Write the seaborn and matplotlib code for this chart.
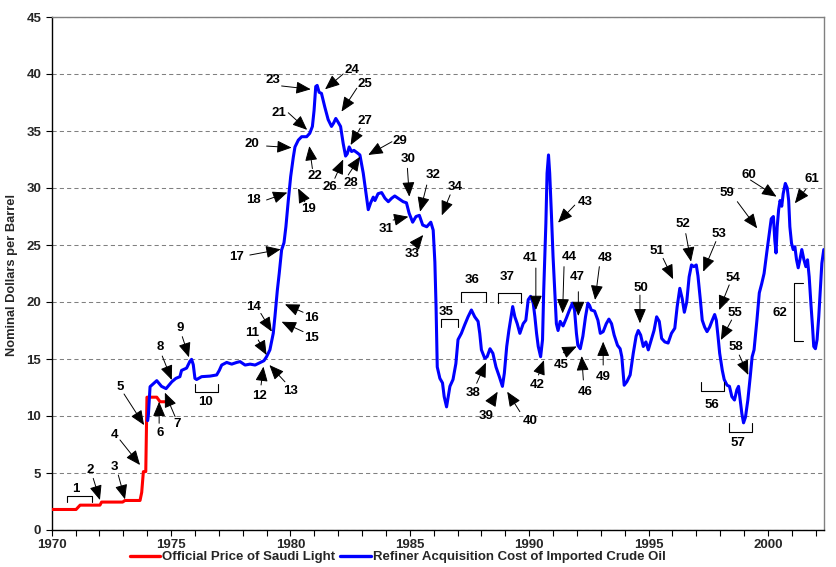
import matplotlib
matplotlib.use("Agg")
import matplotlib.pyplot as plt
from matplotlib.lines import Line2D
import numpy as np
import pandas as pd
import seaborn as sns

# ---------------- data ----------------
red_year = [1970.0, 1971.02, 1971.19, 1972.02, 1972.09, 1972.97, 1973.07, 1973.70,
            1973.77, 1973.84, 1973.94, 1973.99, 1974.40, 1974.54, 1974.95]
red_price = [1.80, 1.80, 2.18, 2.18, 2.45, 2.45, 2.59, 2.59,
             3.30, 5.12, 5.12, 11.65, 11.65, 11.25, 11.25]

blue_year = [
    1974.02, 1974.05, 1974.12, 1974.40, 1974.60, 1974.79, 1975.03, 1975.20, 1975.37, 1975.44,
    1975.65, 1975.79, 1975.86, 1975.93, 1976.00, 1976.07, 1976.28, 1976.63, 1976.91, 1977.02,
    1977.12, 1977.33, 1977.54, 1977.75, 1977.89, 1978.10, 1978.31, 1978.52, 1978.72, 1978.89,
    1979.00, 1979.14, 1979.28, 1979.35, 1979.45, 1979.53, 1979.63, 1979.73, 1979.81, 1979.91,
    1980.01, 1980.12, 1980.19, 1980.33, 1980.47, 1980.68, 1980.81, 1980.92, 1980.99, 1981.06,
    1981.12, 1981.20, 1981.30, 1981.44, 1981.58, 1981.72, 1981.81, 1981.90, 1981.99, 1982.10,
    1982.21, 1982.31, 1982.38, 1982.46, 1982.56, 1982.66, 1982.79, 1982.91, 1983.05, 1983.17,
    1983.26, 1983.36, 1983.47, 1983.54, 1983.67, 1983.82, 1983.96, 1984.10, 1984.24, 1984.37,
    1984.51, 1984.72, 1984.86, 1984.97, 1985.12, 1985.26, 1985.40, 1985.54, 1985.71, 1985.88,
    1985.98, 1986.05, 1986.10, 1986.15, 1986.26, 1986.37, 1986.44, 1986.54, 1986.68, 1986.81,
    1986.93, 1987.02, 1987.16, 1987.30, 1987.44, 1987.58, 1987.72, 1987.86, 1987.93, 1988.00,
    1988.14, 1988.24, 1988.36, 1988.48, 1988.61, 1988.75, 1988.88, 1988.96, 1989.06, 1989.15,
    1989.24, 1989.31, 1989.40, 1989.50, 1989.61, 1989.75, 1989.86, 1989.96, 1990.06, 1990.17,
    1990.24, 1990.31, 1990.38, 1990.48, 1990.56, 1990.61, 1990.70, 1990.75, 1990.81, 1990.86,
    1990.93, 1991.00, 1991.07, 1991.14, 1991.21, 1991.30, 1991.42, 1991.56, 1991.67, 1991.81,
    1991.90, 1991.98, 1992.04, 1992.14, 1992.25, 1992.36, 1992.46, 1992.53, 1992.60, 1992.74,
    1992.88, 1992.98, 1993.10, 1993.23, 1993.34, 1993.45, 1993.56, 1993.70, 1993.81, 1993.88,
    1993.98, 1994.09, 1994.23, 1994.36, 1994.48, 1994.57, 1994.67, 1994.78, 1994.89, 1994.99,
    1995.13, 1995.23, 1995.34, 1995.45, 1995.55, 1995.68, 1995.82, 1995.96, 1996.10, 1996.20,
    1996.31, 1996.41, 1996.50, 1996.60, 1996.70, 1996.80, 1996.90, 1997.00, 1997.07, 1997.17,
    1997.25, 1997.35, 1997.45, 1997.56, 1997.67, 1997.77, 1997.84, 1997.91, 1997.98, 1998.09,
    1998.17, 1998.29, 1998.39, 1998.49, 1998.60, 1998.70, 1998.77, 1998.84, 1998.91, 1998.98,
    1999.06, 1999.16, 1999.26, 1999.34, 1999.42, 1999.54, 1999.64, 1999.74, 1999.84, 1999.95,
    2000.06, 2000.14, 2000.23, 2000.29, 2000.34, 2000.39, 2000.45, 2000.51, 2000.58, 2000.64,
    2000.73, 2000.81, 2000.87, 2000.92, 2000.99, 2001.06, 2001.13, 2001.20, 2001.27, 2001.34,
    2001.42, 2001.51, 2001.59, 2001.66, 2001.73, 2001.80, 2001.87, 2001.92, 2001.99, 2002.06,
    2002.13, 2002.20, 2002.26, 2002.34]
blue_price = [
    9.6, 10.1, 12.57, 13.1, 12.6, 12.4, 13.0, 13.3, 13.45, 14.0,
    14.2, 14.8, 14.97, 14.5, 13.3, 13.2, 13.45, 13.5, 13.6, 14.0,
    14.47, 14.7, 14.55, 14.7, 14.77, 14.47, 14.55, 14.47, 14.68, 14.85,
    15.2, 15.8, 17.25, 18.7, 21.0, 22.5, 24.56, 25.2, 26.6, 28.9,
    31.0, 32.7, 33.6, 34.2, 34.5, 34.5, 34.8, 35.4, 36.8, 38.9,
    39.0, 38.4, 38.3, 37.1, 36.0, 35.4, 35.7, 36.1, 35.8, 35.4,
    33.9, 32.8, 33.0, 33.6, 33.2, 33.3, 33.1, 32.9, 31.3, 29.5,
    28.1, 28.7, 29.2, 28.9, 29.5, 29.6, 29.1, 28.8, 29.1, 29.3,
    29.1, 28.8, 28.7, 27.8, 27.0, 27.5, 27.6, 26.75, 26.6, 27.0,
    26.3, 23.5, 19.6, 14.3, 13.3, 12.9, 11.7, 10.8, 12.6, 13.2,
    14.6, 16.7, 17.25, 18.0, 18.7, 19.3, 18.7, 18.3, 17.25, 15.8,
    15.06, 15.2, 15.9, 15.5, 14.3, 13.45, 12.6, 13.75, 16.1, 17.5,
    18.7, 19.6, 18.7, 18.1, 17.25, 18.1, 18.4, 20.2, 20.5, 19.9,
    18.7, 17.25, 16.1, 15.2, 16.7, 21.05, 26.9, 31.3, 32.9, 31.3,
    27.8, 24.0, 21.05, 18.1, 17.5, 18.3, 17.9, 18.6, 19.2, 19.9,
    19.3, 17.25, 16.2, 15.9, 17.0, 18.7, 19.9, 19.7, 19.3, 19.2,
    18.4, 17.25, 17.4, 18.1, 18.5, 18.1, 17.1, 16.2, 15.9, 15.2,
    12.7, 13.0, 13.6, 15.5, 17.0, 17.5, 17.1, 16.1, 16.5, 15.8,
    16.8, 17.5, 18.7, 18.3, 16.8, 16.5, 16.4, 17.25, 17.7, 19.6,
    21.2, 20.3, 19.1, 20.0, 22.2, 23.25, 23.1, 23.25, 22.3, 20.2,
    18.4, 17.8, 17.4, 17.8, 18.4, 18.9, 18.4, 17.0, 15.5, 14.0,
    13.2, 12.7, 12.6, 11.7, 11.4, 12.3, 12.6, 11.4, 10.2, 9.4,
    9.9, 11.4, 13.45, 15.2, 15.8, 18.4, 20.8, 21.6, 22.5, 24.3,
    26.0, 27.3, 27.5, 25.4, 24.3, 26.6, 28.1, 28.9, 28.4, 29.5,
    30.4, 30.0, 28.9, 26.6, 25.15, 24.6, 24.85, 23.7, 23.0, 23.7,
    24.6, 23.7, 23.1, 23.7, 22.2, 19.9, 17.8, 16.1, 15.9, 16.7,
    18.7, 21.3, 23.4, 24.6]

series_names = ["Official Price of Saudi Light",
                "Refiner Acquisition Cost of Imported Crude Oil"]
series_colors = ["#FF0000", "#0000FF"]

y_ticks = [0, 5, 10, 15, 20, 25, 30, 35, 40, 45]
x_major_years = list(range(1970, 2003))
x_label_years = [1970, 1975, 1980, 1985, 1990, 1995, 2000]

# arrow annotations: (label, text_x, text_y, tail_x, tail_y, tip_x, tip_y)
arrow_notes = [
    ("2", 1971.60, 5.26, 1971.74, 4.53, 1972.02, 2.63),
    ("3", 1972.61, 5.55, 1972.79, 4.82, 1973.07, 2.69),
    ("4", 1972.61, 8.33, 1972.86, 7.90, 1973.70, 5.70),
    ("5", 1972.86, 12.57, 1973.03, 11.93, 1973.87, 9.20),
    ("6", 1974.53, 8.54, 1974.50, 9.36, 1974.50, 11.25),
    ("7", 1975.26, 9.30, 1975.17, 9.94, 1974.74, 12.05),
    ("8", 1974.53, 16.02, 1974.63, 15.26, 1975.03, 13.16),
    ("9", 1975.38, 17.70, 1975.47, 16.96, 1975.75, 15.15),
    ("11", 1978.40, 17.25, 1978.65, 16.67, 1979.00, 15.35),
    ("12", 1978.70, 11.75, 1978.77, 12.72, 1978.87, 14.33),
    ("13", 1980.01, 12.22, 1979.77, 13.00, 1979.12, 14.47),
    ("14", 1978.44, 19.53, 1978.76, 19.00, 1979.22, 17.40),
    ("15", 1980.88, 16.80, 1980.53, 17.40, 1979.63, 18.27),
    ("16", 1980.88, 18.57, 1980.53, 19.10, 1979.77, 19.80),
    ("17", 1977.75, 23.92, 1978.30, 24.12, 1979.59, 24.62),
    ("18", 1978.47, 28.95, 1979.00, 28.95, 1979.87, 29.60),
    ("19", 1980.74, 28.13, 1980.60, 28.80, 1980.32, 29.97),
    ("20", 1978.40, 33.86, 1979.00, 33.68, 1980.05, 33.54),
    ("21", 1979.53, 36.60, 1979.91, 36.60, 1980.70, 35.10),
    ("22", 1981.03, 31.05, 1980.92, 31.70, 1980.79, 33.68),
    ("23", 1979.28, 39.47, 1979.63, 38.95, 1980.85, 38.66),
    ("24", 1982.56, 40.35, 1982.21, 40.00, 1981.45, 38.66),
    ("25", 1983.12, 39.12, 1982.78, 38.75, 1982.14, 36.70),
    ("26", 1981.66, 30.06, 1981.86, 30.85, 1982.21, 32.50),
    ("27", 1983.12, 35.90, 1982.92, 35.24, 1982.52, 33.77),
    ("28", 1982.53, 30.40, 1982.42, 31.14, 1982.92, 32.75),
    ("29", 1984.59, 34.15, 1984.25, 34.06, 1983.26, 32.90),
    ("30", 1984.94, 32.52, 1984.90, 31.73, 1984.98, 29.24),
    ("31", 1984.00, 26.38, 1984.30, 27.19, 1984.94, 27.48),
    ("32", 1985.98, 31.14, 1985.71, 30.26, 1985.43, 27.92),
    ("33", 1985.08, 24.20, 1985.22, 25.00, 1985.56, 25.88),
    ("34", 1986.89, 30.12, 1986.69, 29.40, 1986.34, 27.60),
    ("38", 1987.63, 11.99, 1987.80, 12.87, 1988.19, 14.68),
    ("39", 1988.20, 10.00, 1988.39, 11.11, 1988.68, 12.13),
    ("40", 1990.06, 9.59, 1989.61, 10.38, 1989.08, 12.13),
    ("41", 1990.06, 23.83, 1990.28, 22.98, 1990.28, 19.30),
    ("42", 1990.32, 12.72, 1990.39, 13.60, 1990.62, 14.90),
    ("43", 1992.34, 28.80, 1991.91, 28.50, 1991.21, 26.96),
    ("44", 1991.68, 23.92, 1991.46, 23.10, 1991.40, 19.00),
    ("45", 1991.36, 14.47, 1991.43, 15.55, 1991.99, 16.10),
    ("46", 1992.35, 12.13, 1992.27, 13.16, 1992.20, 15.26),
    ("47", 1992.02, 22.22, 1992.06, 20.90, 1992.06, 18.77),
    ("48", 1993.17, 23.83, 1992.94, 23.10, 1992.76, 20.18),
    ("49", 1993.08, 13.45, 1993.10, 14.47, 1993.10, 16.52),
    ("50", 1994.67, 21.20, 1994.64, 20.60, 1994.64, 18.13),
    ("51", 1995.34, 24.50, 1995.61, 23.83, 1996.03, 22.00),
    ("52", 1996.46, 26.84, 1996.56, 26.00, 1996.78, 23.54),
    ("53", 1997.96, 25.96, 1997.82, 25.30, 1997.29, 22.66),
    ("54", 1998.55, 22.08, 1998.38, 21.50, 1997.96, 19.30),
    ("55", 1998.62, 19.00, 1998.48, 18.42, 1998.03, 16.67),
    ("58", 1998.66, 16.02, 1998.80, 15.35, 1999.18, 13.60),
    ("59", 1998.30, 29.53, 1998.72, 28.80, 1999.55, 26.46),
    ("60", 1999.20, 31.14, 1999.27, 30.70, 2000.36, 29.24),
    ("61", 2001.83, 30.76, 2001.59, 29.89, 2001.13, 28.66),
]

# horizontal brackets: (label, text_x, text_y, x_start, x_end, bar_y, tick_end_y)
h_brackets = [
    ("1", 1971.02, 3.57, 1970.63, 1971.68, 3.00, 2.42),
    ("10", 1976.46, 11.25, 1976.02, 1976.97, 12.13, 12.78),
    ("35", 1986.54, 19.15, 1986.29, 1987.03, 18.48, 17.78),
    ("36", 1987.63, 21.93, 1987.13, 1988.18, 20.85, 20.03),
    ("37", 1989.08, 22.22, 1988.71, 1989.64, 20.76, 19.88),
    ("56", 1997.67, 10.96, 1997.20, 1998.17, 12.19, 13.00),
    ("57", 1998.76, 7.60, 1998.37, 1999.34, 8.62, 9.36),
]
# vertical brackets: (label, text_x, text_y, bar_x, y_start, y_end, tick_end_x)
v_brackets = [
    ("62", 2000.50, 19.00, 2001.09, 16.58, 21.70, 2001.48),
]

# ---------------- figure ----------------
sns.set_style("white")
plt.rcParams["font.family"] = ["Liberation Sans", "DejaVu Sans"]
plt.rcParams["font.weight"] = "bold"

W, H = 836, 567
fig = plt.figure(figsize=(W / 100, H / 100), dpi=100)
ax = fig.add_axes([51.7 / W, 37 / H, (824 - 51.7) / W, (530 - 17) / H])

df = pd.concat([
    pd.DataFrame({"year": red_year, "price": red_price, "series": series_names[0]}),
    pd.DataFrame({"year": blue_year, "price": blue_price, "series": series_names[1]}),
], ignore_index=True)

sns.lineplot(data=df, x="year", y="price", hue="series",
             palette=dict(zip(series_names, series_colors)),
             estimator=None, sort=False, linewidth=2.2, legend=False, ax=ax,
             zorder=3)

ax.set_xlim(1970, 2002.35)
ax.set_ylim(0, 45)
ax.set_yticks(y_ticks)
ax.set_yticklabels([str(v) for v in y_ticks], fontsize=9.5, fontweight="bold")
ax.set_xticks(x_major_years)
ax.set_xticklabels([str(y) if y in x_label_years else "" for y in x_major_years],
                   fontsize=9.5, fontweight="bold")
ax.tick_params(axis="x", bottom=True, direction="out", length=4, width=0.8, pad=2.5,
               color="black")
ax.tick_params(axis="y", left=True, direction="out", length=4, width=0.8, pad=3.5,
               color="black")
ax.set_xlabel("")
ax.set_ylabel("")

ax.yaxis.grid(True, linestyle=(0, (4, 3)), color="#808080", linewidth=0.75)
ax.xaxis.grid(False)
ax.set_axisbelow(True)
for side in ["left", "bottom"]:
    ax.spines[side].set_color("black")
    ax.spines[side].set_linewidth(1.0)
for side in ["top", "right"]:
    ax.spines[side].set_color("#808080")
    ax.spines[side].set_linewidth(1.0)
    ax.spines[side].set_visible(True)

txt_kw = dict(ha="center", va="center", fontsize=9.5, fontweight="bold",
              color="black", zorder=5)
arrow_kw = dict(arrowstyle="-|>,head_length=0.9,head_width=0.38",
                mutation_scale=10, color="black", lw=0.7,
                shrinkA=0, shrinkB=0)

for lab, tx, ty, ax0, ay0, ax1, ay1 in arrow_notes:
    ax.text(tx, ty, lab, **txt_kw)
    ax.annotate("", xy=(ax1, ay1), xytext=(ax0, ay0),
                arrowprops=arrow_kw, zorder=5)

for lab, tx, ty, x0, x1, by, ty_end in h_brackets:
    ax.text(tx, ty, lab, **txt_kw)
    ax.plot([x0, x0, x1, x1], [ty_end, by, by, ty_end], color="black",
            lw=0.8, zorder=5)

for lab, tx, ty, bx, y0, y1, tx_end in v_brackets:
    ax.text(tx, ty, lab, **txt_kw)
    ax.plot([tx_end, bx, bx, tx_end], [y0, y0, y1, y1], color="black",
            lw=0.8, zorder=5)

fig.text(12 / W, 1 - 275 / H, "Nominal Dollars per Barrel", rotation=90,
         ha="center", va="center", fontsize=9.3, fontweight="bold")

handles = [Line2D([0], [0], color=c, lw=2.4) for c in series_colors]
fig.legend(handles, series_names, loc="center",
           bbox_to_anchor=(397.5 / W, 1 - 557 / H), ncol=2, frameon=False,
           handlelength=2.3, handletextpad=0.15,
           columnspacing=0.4, borderpad=0, borderaxespad=0,
           prop={"weight": "bold", "size": 9.5})

fig.savefig("out.png", dpi=100)
